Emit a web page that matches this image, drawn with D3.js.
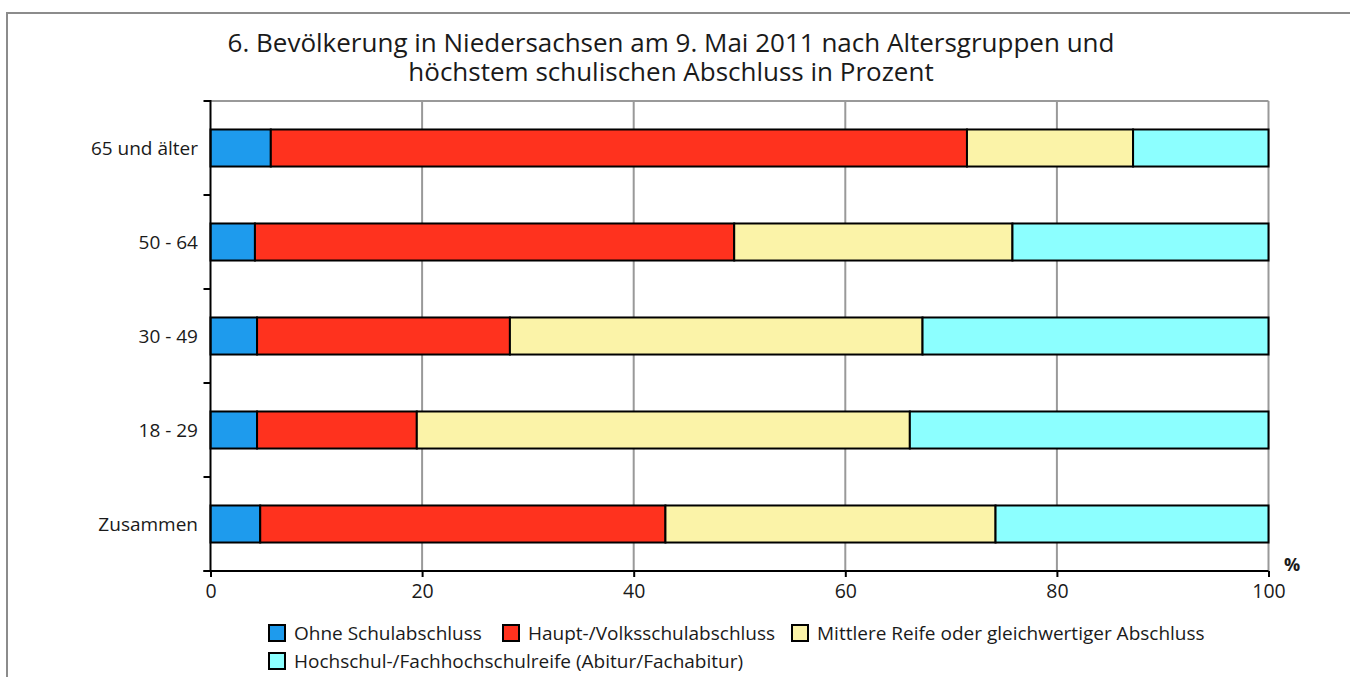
<!DOCTYPE html>
<html>
<head>
<meta charset="utf-8">
<script src="https://cdn.jsdelivr.net/npm/d3@7"></script>
<style>
  body { margin: 0; background: #fff; }
  text { font-family: "Open Sans", "Noto Sans", sans-serif; fill: #1a1a1a; }
</style>
</head>
<body>
<div id="viz"></div>
<script>
const categories = ["65 und älter", "50 - 64", "30 - 49", "18 - 29", "Zusammen"];
const seriesNames = [
  "Ohne Schulabschluss",
  "Haupt-/Volksschulabschluss",
  "Mittlere Reife oder gleichwertiger Abschluss",
  "Hochschul-/Fachhochschulreife (Abitur/Fachabitur)"
];
const ohne = [5.7, 4.2, 4.4, 4.4, 4.7];
const haupt = [65.8, 45.3, 23.9, 15.1, 38.3];
const mittlere = [15.7, 26.3, 39.0, 46.6, 31.2];
const hochschul = [12.8, 24.2, 32.7, 33.9, 25.8];
const xTicks = [0, 20, 40, 60, 80, 100];
const titleLines = [
  "6. Bevölkerung in Niedersachsen am 9. Mai 2011 nach Altersgruppen und",
  "höchstem schulischen Abschluss in Prozent"
];
const colors = ["#1e9bed", "#ff321e", "#fbf3a8", "#8cffff"];

const rows = categories.map((c, i) => ({
  cat: c, s0: ohne[i], s1: haupt[i], s2: mittlere[i], s3: hochschul[i]
}));

const svg = d3.select('#viz')
  .append('svg')
  .attr('width', 1350)
  .attr('height', 677);

svg.append('rect').attr('width', 1350).attr('height', 677).attr('fill', '#fff');

// outer frame
svg.append('path')
  .attr('d', 'M7,677 L7,13 L1350,13')
  .attr('fill', 'none')
  .attr('stroke', '#8c8c8c')
  .attr('stroke-width', 2);

// title, one text per line
svg.selectAll('text.title')
  .data(titleLines)
  .enter()
  .append('text')
  .classed('title', true)
  .attr('x', 671)
  .attr('y', (d, i) => 52 + i * 29)
  .attr('text-anchor', 'middle')
  .attr('font-size', 26)
  .text(d => d);

const xScale = d3.scaleLinear()
  .domain([0, 100])
  .range([210.5, 1268.5]);

const yScale = d3.scaleBand()
  .domain(categories)
  .range([101, 571])
  .paddingInner(0.606)
  .paddingOuter(0.303);

const yEdges = d3.scaleLinear()
  .domain([0, categories.length])
  .range([101, 571]);

// plot top border + grid
svg.append('line')
  .attr('x1', xScale(0)).attr('x2', xScale(100))
  .attr('y1', 101).attr('y2', 101)
  .attr('stroke', '#999').attr('stroke-width', 2);

svg.selectAll('line.grid')
  .data(xTicks.slice(1))
  .enter()
  .append('line')
  .classed('grid', true)
  .attr('x1', d => xScale(d)).attr('x2', d => xScale(d))
  .attr('y1', 101).attr('y2', 571)
  .attr('stroke', '#999')
  .attr('stroke-width', 2);

// stacked bars
const stack = d3.stack().keys(["s0", "s1", "s2", "s3"]);
const layers = stack(rows);

const gLayers = svg.selectAll('g.layer')
  .data(layers)
  .enter()
  .append('g')
  .classed('layer', true)
  .attr('fill', (d, i) => colors[i]);

gLayers.selectAll('rect')
  .data(d => d)
  .enter()
  .append('rect')
  .attr('x', d => xScale(d[0]))
  .attr('width', d => xScale(d[1]) - xScale(d[0]))
  .attr('y', d => yScale(d.data.cat))
  .attr('height', yScale.bandwidth())
  .attr('stroke', '#000')
  .attr('stroke-width', 2);

// y axis
svg.append('line')
  .attr('x1', xScale(0)).attr('x2', xScale(0))
  .attr('y1', 100).attr('y2', 572)
  .attr('stroke', '#000').attr('stroke-width', 2);

svg.selectAll('line.ytick')
  .data(d3.range(categories.length + 1))
  .enter()
  .append('line')
  .classed('ytick', true)
  .attr('x1', xScale(0) - 7).attr('x2', xScale(0))
  .attr('y1', d => yEdges(d)).attr('y2', d => yEdges(d))
  .attr('stroke', '#000').attr('stroke-width', 2);

svg.selectAll('text.ylabel')
  .data(categories)
  .enter()
  .append('text')
  .classed('ylabel', true)
  .attr('x', 198)
  .attr('y', d => yScale(d) + yScale.bandwidth() / 2)
  .attr('dy', '0.35em')
  .attr('text-anchor', 'end')
  .attr('font-size', 19)
  .text(d => d);

// x axis
const xAxis = d3.axisBottom(xScale)
  .tickValues(xTicks)
  .tickSize(6)
  .tickPadding(7)
  .tickSizeOuter(0);

const gx = svg.append('g')
  .attr('transform', 'translate(0,571)')
  .call(xAxis);
gx.select('.domain').attr('stroke', '#000').attr('stroke-width', 2)
  .attr('d', `M${xScale(0) - 7},0H${xScale(100)}`);
gx.selectAll('.tick line').attr('stroke', '#000').attr('stroke-width', 2);
gx.selectAll('.tick text')
  .attr('font-size', 19.5)
  .attr('font-family', '"Open Sans", "Noto Sans", sans-serif')
  .attr('fill', '#1a1a1a');

svg.append('text')
  .attr('x', 1292)
  .attr('y', 571)
  .attr('text-anchor', 'middle')
  .attr('font-size', 18)
  .attr('font-weight', 'bold')
  .text('%');

// legend
const legendPos = [[269, 633], [503, 633], [792, 633], [269, 661]];
const legend = svg.selectAll('g.legend')
  .data(seriesNames)
  .enter()
  .append('g')
  .classed('legend', true)
  .attr('transform', (d, i) => `translate(${legendPos[i][0]},${legendPos[i][1]})`);

legend.append('rect')
  .attr('x', 0).attr('y', -8)
  .attr('width', 16).attr('height', 16)
  .attr('fill', (d, i) => colors[i])
  .attr('stroke', '#000')
  .attr('stroke-width', 2);

legend.append('text')
  .attr('x', 25)
  .attr('y', 0)
  .attr('dy', '0.35em')
  .attr('font-size', 19)
  .text(d => d);
</script>
</body>
</html>
